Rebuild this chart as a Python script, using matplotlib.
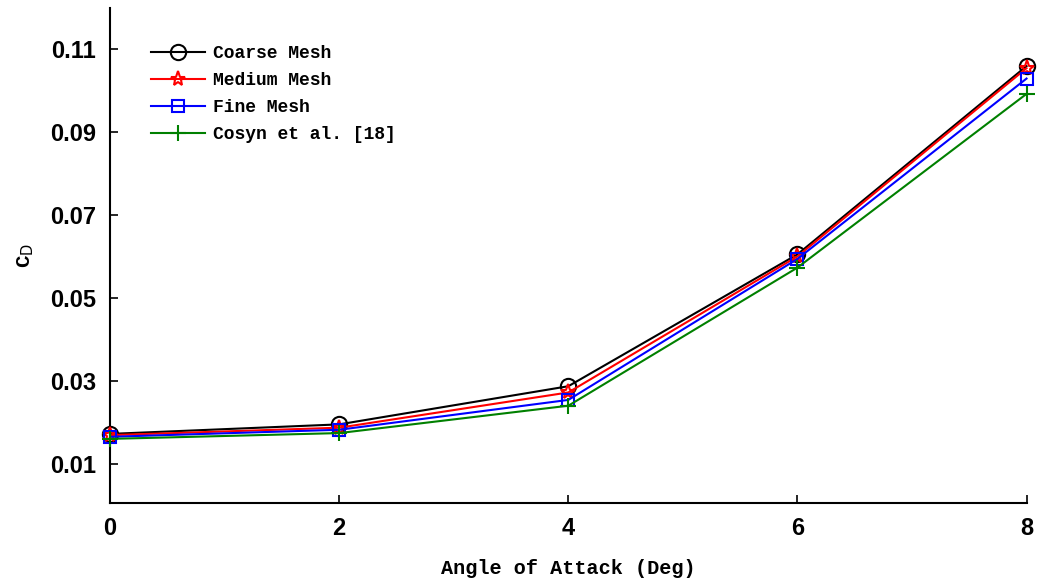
import numpy as np
import matplotlib.pyplot as plt

alpha = [0, 2, 4, 6, 8]
coarse = [0.0172, 0.0195, 0.0287, 0.0605, 0.1059]
medium = [0.0169, 0.0187, 0.0272, 0.0600, 0.1054]
fine = [0.0165, 0.0182, 0.0254, 0.0594, 0.1029]
cosyn = [0.0160, 0.0174, 0.0240, 0.0573, 0.0992]

series = [
    (coarse, 'Coarse Mesh', 'k', 'o'),
    (medium, 'Medium Mesh', 'r', '*'),
    (fine, 'Fine Mesh', 'b', 's'),
    (cosyn, 'Cosyn et al. [18]', 'g', '+'),
]

fig = plt.figure(figsize=(10.39, 5.88), dpi=100)
ax = fig.add_axes([0.106, 0.145, 0.882, 0.842])

for y, lab, c, m in series:
    ax.plot(alpha, y, color=c, marker=m, markersize=11 if m != 's' else 9,
            markerfacecolor='none', markeredgecolor=c, markeredgewidth=1.5,
            linewidth=1.5, label=lab, clip_on=False, zorder=3)

ax.set_xlim(0, 8)
ax.set_ylim(0.0006, 0.12)
ax.set_xticks([0, 2, 4, 6, 8])
ax.set_yticks([0.01, 0.03, 0.05, 0.07, 0.09, 0.11])
ax.set_yticklabels(['0.01', '0.03', '0.05', '0.07', '0.09', '0.11'])
ax.tick_params(direction='in', length=6, width=1.2, labelsize=17, pad=10)
for t in ax.get_xticklabels() + ax.get_yticklabels():
    t.set_fontfamily('Liberation Sans')
    t.set_fontweight('bold')

ax.spines['top'].set_visible(False)
ax.spines['right'].set_visible(False)
ax.spines['left'].set_linewidth(1.5)
ax.spines['bottom'].set_linewidth(1.5)

ax.set_xlabel('Angle of Attack (Deg)', fontfamily='Liberation Mono',
              fontweight='bold', fontsize=14.5, labelpad=14)
ax.set_ylabel(r'C$_{\rm D}$', fontfamily='Liberation Mono',
              fontweight='bold', fontsize=15, labelpad=10)

ax.legend(loc='upper left', bbox_to_anchor=(0.027, 0.957), frameon=False,
          prop={'family': 'Liberation Mono', 'weight': 'bold', 'size': 13},
          handlelength=3.0, handletextpad=0.4, labelspacing=0.55)

fig.savefig('out.png', dpi=100)
